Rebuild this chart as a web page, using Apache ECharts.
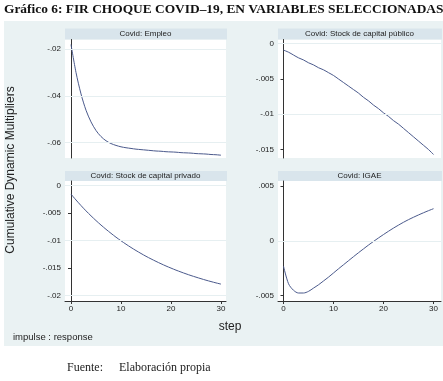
<!DOCTYPE html>
<html><head><meta charset="utf-8">
<script src="https://cdn.jsdelivr.net/npm/echarts@6/dist/echarts.min.js"></script>
<style>html,body{margin:0;padding:0;background:#fff}#c{width:443px;height:381px}</style>
</head><body><div id="c"></div>
<script>
var steps = [0,1,2,3,4,5,6,7,8,9,10,11,12,13,14,15,16,17,18,19,20,21,22,23,24,25,26,27,28,29,30];
var panelTitles = ['Covid: Empleo','Covid: Stock de capital público','Covid: Stock de capital privado','Covid: IGAE'];
var empleo = [-0.0180,-0.0300,-0.0392,-0.0462,-0.0512,-0.0549,-0.0575,-0.0593,-0.0605,-0.0613,-0.0619,-0.0623,-0.0626,-0.0629,-0.0631,-0.0633,-0.0635,-0.0637,-0.0638,-0.0640,-0.0641,-0.0642,-0.0644,-0.0645,-0.0646,-0.0648,-0.0649,-0.0650,-0.0652,-0.0653,-0.0655];
var capPublico = [-0.0009,-0.0012,-0.0016,-0.0020,-0.0023,-0.0027,-0.0030,-0.0034,-0.0037,-0.0041,-0.0045,-0.0050,-0.0055,-0.0060,-0.0065,-0.0070,-0.0076,-0.0081,-0.0087,-0.0092,-0.0098,-0.0103,-0.0109,-0.0114,-0.0120,-0.0126,-0.0132,-0.0138,-0.0144,-0.0150,-0.0157];
var capPrivado = [-0.0016,-0.00266,-0.00367,-0.00463,-0.00553,-0.00639,-0.00720,-0.00797,-0.00870,-0.00940,-0.01005,-0.01067,-0.01126,-0.01182,-0.01235,-0.01286,-0.01333,-0.01378,-0.01421,-0.01462,-0.01500,-0.01537,-0.01571,-0.01604,-0.01635,-0.01664,-0.01692,-0.01719,-0.01744,-0.01768,-0.01790];
var igae = [-0.0023,-0.0039,-0.0045,-0.00475,-0.00475,-0.0046,-0.0043,-0.0040,-0.00365,-0.0033,-0.00292,-0.00254,-0.00217,-0.0018,-0.00143,-0.00107,-0.00072,-0.00037,-0.00004,0.00028,0.00059,0.00089,0.00118,0.00145,0.00171,0.00195,0.00217,0.00238,0.00258,0.00277,0.00295];
var xTicks = [0,10,20,30];
var xTickLabels = ['0','10','20','30'];
var yTicks0 = [-0.02,-0.04,-0.06];          var yLabels0 = ['-.02','-.04','-.06'];
var yTicks1 = [0,-0.005,-0.01,-0.015];      var yLabels1 = ['0','-.005','-.01','-.015'];
var yTicks2 = [0,-0.005,-0.01,-0.015,-0.02];var yLabels2 = ['0','-.005','-.01','-.015','-.02'];
var yTicks3 = [0.005,0,-0.005];             var yLabels3 = ['.005','0','-.005'];

var seriesVals = [empleo, capPublico, capPrivado, igae];
var yT = [yTicks0,yTicks1,yTicks2,yTicks3];
var yL = [yLabels0,yLabels1,yLabels2,yLabels3];
var yMin = [-0.0667,-0.0162,-0.02096,-0.00548];
var yMax = [-0.01585,0.0006,0.00078,0.00548];
var grids = [
  {left:65, top:39.5, width:161, height:118.5},
  {left:278, top:39.5, width:163, height:118.5},
  {left:65, top:181, width:161, height:120},
  {left:278, top:181, width:163, height:120}
];
var xMin = [-1.2,-1.1,-1.2,-1.1], xMax=[31,31.5,31,31.5];
var FONT = 'Liberation Sans, Arial, sans-serif';
var SERIF = 'Liberation Serif, Times New Roman, serif';
var chart = echarts.init(document.getElementById('c'), null, {renderer:'canvas'});
var xAxes=[], yAxes=[], series=[], graphics=[];
graphics.push({type:'rect', shape:{x:4,y:21,width:439,height:325}, style:{fill:'#eaf2f3'}, z:-10});
for (var i=0;i<4;i++){
  var g = grids[i];
  var bottom = i>=2;
  graphics.push({type:'rect', shape:{x:g.left,y:g.top,width:g.width,height:g.height}, style:{fill:'#ffffff'}, z:-9});
  var hTop = bottom ? g.top-10 : g.top-11;
  var hH = bottom ? 10 : 11;
  graphics.push({type:'rect', shape:{x:g.left,y:hTop,width:g.width+1,height:hH}, style:{fill:'#d9e5ec'}, z:-8});
  graphics.push({type:'text', x:g.left+g.width/2, y:hTop+hH/2, style:{text:panelTitles[i], font:'8px '+FONT, fill:'#222', textAlign:'center', textVerticalAlign:'middle'}, z:5});
  xAxes.push({type:'value', gridIndex:i, min:xMin[i], max:xMax[i], show:true,
    axisLine:{show:bottom, onZero:false, lineStyle:{color:'#333', width:1}},
    axisTick:{show:bottom, length:3, customValues:xTicks, lineStyle:{color:'#333'}},
    axisLabel:{show:bottom, customValues:xTicks, fontSize:8, fontFamily:FONT, color:'#222', margin:4,
      formatter:function(v){var k=xTicks.indexOf(v);return k>=0?xTickLabels[k]:'';}},
    splitLine:{show:false}});
  (function(idx){
  yAxes.push({type:'value', gridIndex:idx, min:yMin[idx], max:yMax[idx],
    axisLine:{show:true, lineStyle:{color:'#333', width:1}},
    axisTick:{show:true, length:3, customValues:yT[idx], lineStyle:{color:'#333'}},
    axisLabel:{customValues:yT[idx], fontSize:8, fontFamily:FONT, color:'#222', margin:4,
      formatter:function(v){for(var k=0;k<yT[idx].length;k++){if(Math.abs(yT[idx][k]-v)<1e-9)return yL[idx][k];}return '';}},
    splitLine:{show:false}});
  })(i);
  series.push({type:'line', xAxisIndex:i, yAxisIndex:i, data:[], z:1, silent:true,
    markLine:{silent:true, symbol:'none', label:{show:false}, animation:false,
      lineStyle:{color:'#e6eff1', width:1, type:'solid'},
      data: yT[i].map(function(v){return {yAxis:v};})}});
  var data = steps.map(function(s,k){return [s, seriesVals[i][k]];});
  series.push({type:'line', xAxisIndex:i, yAxisIndex:i, data:data, smooth:0.3, symbol:'none',
    lineStyle:{color:'#4b5a8c', width:1}, z:3, silent:true});
}
graphics.push({type:'text', x:4, y:10, style:{text:'Gráfico 6: FIR CHOQUE COVID–19, EN VARIABLES SELECCIONADAS', font:'bold 13.4px '+SERIF, fill:'#111', textVerticalAlign:'middle'}});
graphics.push({type:'text', x:11, y:170, rotation:Math.PI/2, style:{text:'Cumulative Dynamic Multipliers', font:'12px '+FONT, fill:'#222', textAlign:'center', textVerticalAlign:'middle'}});
graphics.push({type:'text', x:230, y:327, style:{text:'step', font:'12px '+FONT, fill:'#222', textAlign:'center', textVerticalAlign:'middle'}});
graphics.push({type:'text', x:13, y:337, style:{text:'impulse : response', font:'9.5px '+FONT, fill:'#222', textVerticalAlign:'middle'}});
graphics.push({type:'text', x:67, y:368, style:{text:'Fuente:', font:'12px '+SERIF, fill:'#222', textVerticalAlign:'middle'}});
graphics.push({type:'text', x:119, y:368, style:{text:'Elaboración propia', font:'12px '+SERIF, fill:'#222', textVerticalAlign:'middle'}});
chart.setOption({animation:false, grid:grids, xAxis:xAxes, yAxis:yAxes, series:series, graphic:{elements:graphics}});
</script></body></html>
